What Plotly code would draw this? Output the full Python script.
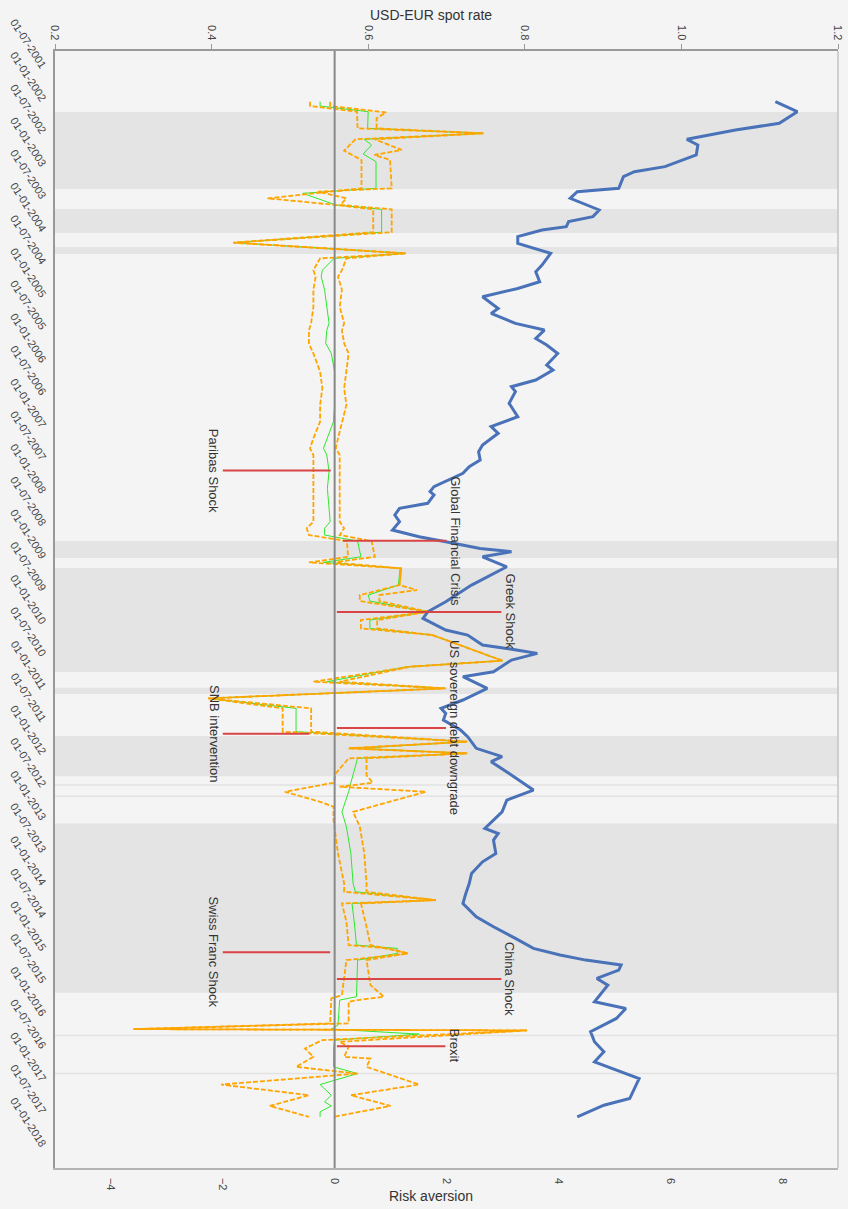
import plotly.graph_objects as go
import pandas as pd

# ---------------- data (time as decimal years) ----------------
usd_t = [2002.012, 2002.165, 2002.343, 2002.445, 2002.588, 2002.675, 2002.828, 2003.006, 2003.083, 2003.160,
         2003.338, 2003.389, 2003.491, 2003.670, 2003.772, 2003.848, 2003.925, 2003.976, 2004.078, 2004.180,
         2004.333, 2004.512, 2004.614, 2004.767, 2004.869, 2004.996, 2005.175, 2005.251, 2005.404, 2005.506,
         2005.634, 2005.736, 2005.864, 2006.041, 2006.118, 2006.271, 2006.373, 2006.449, 2006.628, 2006.832,
         2006.985, 2007.087, 2007.266, 2007.368, 2007.495, 2007.597, 2007.699, 2007.903, 2007.980, 2008.031,
         2008.158, 2008.235, 2008.337, 2008.439, 2008.567, 2008.669, 2008.745, 2008.847, 2008.898, 2008.975,
         2009.128, 2009.408, 2009.663, 2009.817, 2009.919, 2010.097, 2010.174, 2010.327, 2010.378, 2010.454,
         2010.556, 2010.735, 2010.811, 2010.990, 2011.168, 2011.296, 2011.373, 2011.475, 2011.628, 2011.730,
         2011.908, 2012.036, 2012.112, 2012.291, 2012.546, 2012.699, 2012.878, 2013.005, 2013.133, 2013.209,
         2013.311, 2013.515, 2013.643, 2013.822, 2013.975, 2014.153, 2014.281, 2014.485, 2014.638, 2014.816,
         2014.969, 2015.071, 2015.148, 2015.224, 2015.301, 2015.429, 2015.531, 2015.786, 2015.888, 2016.041,
         2016.245, 2016.398, 2016.551, 2016.704, 2016.959, 2017.265, 2017.367, 2017.546]
usd_v = [1.120, 1.148, 1.125, 1.069, 1.007, 1.021, 1.019, 0.979, 0.940, 0.926,
         0.920, 0.867, 0.858, 0.895, 0.887, 0.856, 0.853, 0.822, 0.791, 0.791,
         0.833, 0.822, 0.814, 0.819, 0.791, 0.746, 0.766, 0.757, 0.788, 0.825,
         0.814, 0.828, 0.842, 0.828, 0.836, 0.814, 0.783, 0.788, 0.780, 0.791,
         0.757, 0.766, 0.746, 0.741, 0.743, 0.729, 0.721, 0.684, 0.679, 0.684,
         0.676, 0.640, 0.634, 0.640, 0.631, 0.665, 0.699, 0.743, 0.783, 0.746,
         0.777, 0.732, 0.699, 0.676, 0.670, 0.699, 0.727, 0.746, 0.777, 0.816,
         0.783, 0.760, 0.721, 0.752, 0.721, 0.693, 0.699, 0.696, 0.718, 0.727,
         0.738, 0.771, 0.757, 0.780, 0.811, 0.777, 0.771, 0.760, 0.749, 0.766,
         0.760, 0.763, 0.746, 0.732, 0.729, 0.724, 0.721, 0.738, 0.760, 0.788,
         0.811, 0.845, 0.878, 0.923, 0.920, 0.892, 0.906, 0.889, 0.929, 0.917,
         0.884, 0.889, 0.901, 0.889, 0.946, 0.934, 0.901, 0.867]

low_t = [2002.012, 2002.078, 2002.165, 2002.420, 2002.496, 2002.588, 2002.762, 2002.904, 2003.338, 2003.491,
         2003.593, 2003.660, 2004.010, 2004.170, 2004.333, 2004.410, 2004.590, 2004.690, 2004.890, 2005.150,
         2005.400, 2005.510, 2005.710, 2005.864, 2006.143, 2006.398, 2006.653, 2006.908, 2007.164, 2007.317,
         2007.419, 2007.674, 2007.929, 2008.184, 2008.439, 2008.541, 2008.643, 2008.735, 2008.975, 2009.061,
         2009.153, 2009.408, 2009.561, 2009.653, 2009.817, 2009.944, 2010.072, 2010.174, 2010.566, 2010.658,
         2010.888, 2010.990, 2011.143, 2011.296, 2011.653, 2011.806, 2011.908, 2011.985, 2012.061, 2012.291,
         2012.434, 2012.572, 2012.725, 2012.800, 2013.005, 2013.515, 2013.975, 2014.102, 2014.230, 2014.281,
         2014.561, 2014.918, 2014.969, 2015.046, 2015.148, 2015.684, 2015.735, 2016.117, 2016.204, 2016.224,
         2016.372, 2016.500, 2016.628, 2016.781, 2016.883, 2017.051, 2017.214, 2017.378, 2017.546]
low_v = [-0.44, -0.44, 0.40, 0.41, 2.66, 0.37, 0.17, 0.48, 0.48, -1.20,
         0.02, 0.69, 0.69, -1.81, 1.27, -0.26, -0.38, -0.34, -0.38, -0.38,
         -0.42, -0.46, -0.46, -0.38, -0.26, -0.22, -0.26, -0.26, -0.38, -0.44,
         -0.38, -0.38, -0.38, -0.38, -0.38, -0.50, -0.46, 0.22, 0.24, -0.46,
         1.19, 1.16, 0.45, 0.45, 1.67, 0.47, 0.47, 1.75, 3.00, 1.35,
         -0.38, 1.98, -2.26, -0.93, -0.93, 2.37, 0.25, 2.37, 0.25, 0.02,
         -0.02, -0.89, -0.26, -0.02, -0.02, 0.06, 0.17, 0.17, 1.81, 0.13,
         0.21, 0.25, 0.96, 1.31, 0.21, 0.13, -0.06, -0.08, -3.60, 3.44,
         -0.22, -0.53, -0.38, -0.69, 0.41, -2.03, -0.46, -1.16, -0.46]

mid_t = [2002.012, 2002.078, 2002.165, 2002.420, 2002.496, 2002.588, 2002.675, 2002.813, 2002.930, 2003.338,
         2003.415, 2003.593, 2003.660, 2004.010, 2004.170, 2004.333, 2004.410, 2004.590, 2004.690, 2004.890,
         2005.150, 2005.400, 2005.510, 2005.710, 2005.864, 2006.143, 2006.398, 2006.653, 2006.908, 2007.164,
         2007.317, 2007.419, 2007.674, 2007.929, 2008.184, 2008.439, 2008.541, 2008.643, 2008.735, 2008.975,
         2009.061, 2009.153, 2009.408, 2009.561, 2009.653, 2009.817, 2009.944, 2010.072, 2010.174, 2010.566,
         2010.658, 2010.888, 2010.990, 2011.143, 2011.296, 2011.653, 2011.806, 2011.908, 2011.985, 2012.061,
         2012.434, 2012.572, 2012.725, 2012.878, 2013.107, 2013.515, 2013.975, 2014.102, 2014.230, 2014.281,
         2014.561, 2014.918, 2014.969, 2015.046, 2015.148, 2015.709, 2015.760, 2016.143, 2016.204, 2016.281,
         2016.372, 2016.500, 2016.781, 2016.883, 2017.051, 2017.214, 2017.316, 2017.378, 2017.469, 2017.546]
mid_v = [-0.26, -0.26, 0.60, 0.59, 2.66, 0.53, 0.66, 0.51, 0.74, 0.74,
         -0.57, 0.02, 0.84, 0.84, -1.81, 1.27, -0.01, -0.22, -0.24, -0.18,
         -0.14, -0.10, -0.14, -0.16, -0.06, 0.00, 0.00, 0.00, -0.02, -0.14,
         -0.20, -0.14, -0.10, -0.13, -0.10, -0.08, -0.18, -0.18, 0.41, 0.47,
         -0.20, 1.17, 1.14, 0.60, 0.63, 1.67, 0.63, 0.63, 1.75, 3.00,
         1.30, -0.14, 1.98, -2.26, -0.69, -0.69, 2.37, 0.41, 2.37, 0.41,
         0.29, 0.25, 0.19, 0.13, 0.21, 0.29, 0.33, 0.37, 1.81, 0.31,
         0.35, 0.39, 1.12, 1.12, 0.41, 0.39, 0.09, 0.06, -0.06, 1.51,
         0.00, -0.02, -0.02, 0.41, -0.26, -0.06, -0.18, -0.06, -0.26, -0.26]

up_t = [2002.012, 2002.078, 2002.175, 2002.267, 2002.420, 2002.496, 2002.588, 2002.751, 2002.828, 2002.904,
        2003.338, 2003.389, 2003.491, 2003.593, 2003.660, 2004.010, 2004.170, 2004.333, 2004.410, 2004.590,
        2004.690, 2004.890, 2005.150, 2005.400, 2005.510, 2005.710, 2005.864, 2006.143, 2006.398, 2006.653,
        2006.908, 2007.164, 2007.317, 2007.419, 2007.674, 2007.929, 2008.184, 2008.439, 2008.541, 2008.643,
        2008.735, 2008.975, 2009.061, 2009.153, 2009.408, 2009.485, 2009.561, 2009.653, 2009.817, 2009.944,
        2010.072, 2010.174, 2010.566, 2010.658, 2010.888, 2010.990, 2011.143, 2011.296, 2011.653, 2011.806,
        2011.908, 2011.985, 2012.061, 2012.320, 2012.434, 2012.495, 2012.572, 2012.878, 2013.107, 2013.515,
        2013.975, 2014.102, 2014.230, 2014.281, 2014.561, 2014.918, 2015.046, 2015.148, 2015.531, 2015.709,
        2015.760, 2015.786, 2016.117, 2016.204, 2016.224, 2016.306, 2016.398, 2016.474, 2016.628, 2016.653,
        2016.781, 2017.051, 2017.214, 2017.378, 2017.546]
up_v = [-0.08, -0.08, 0.92, 0.75, 0.75, 2.66, 0.72, 1.20, 0.71, 0.99,
        1.02, -0.30, 0.21, 0.10, 1.02, 1.02, -1.81, 1.27, 0.21, 0.13,
        0.06, 0.13, 0.09, 0.17, 0.13, 0.17, 0.25, 0.21, 0.17, 0.21,
        0.13, 0.06, 0.02, 0.09, 0.09, 0.09, 0.09, 0.09, 0.17, 0.09,
        0.66, 0.72, -0.03, 1.19, 1.16, 1.47, 0.80, 0.80, 1.67, 0.76,
        0.76, 1.75, 3.00, 1.35, 0.09, 1.98, -2.26, -0.42, -0.42, 2.37,
        0.25, 2.37, 0.57, 0.57, 0.68, 0.09, 1.63, 0.33, 0.45, 0.53,
        0.57, 0.57, 1.81, 0.47, 0.55, 0.64, 1.31, 0.57, 0.64, 0.88,
        0.41, 0.25, 0.25, -3.60, 3.44, 1.82, 0.09, 0.25, 0.17, 0.64,
        0.57, 1.51, 0.29, 1.00, -0.02]

band_start = ["2002-03-04", "2003-08-28", "2004-03-28", "2008-09-26", "2009-02-24",
              "2010-12-25", "2011-09-21", "2013-01-22"]
band_end = ["2003-05-08", "2004-01-09", "2004-05-06", "2008-12-30", "2010-09-28",
            "2011-01-29", "2012-05-02", "2015-08-25"]
thin_dates = ["2012-06-21", "2012-08-22", "2016-04-21", "2016-11-19"]

event_names = ["Paribas Shock", "Global Financial Crisis", "Greek Shock", "US sovereign debt downgrade",
               "SNB intervention", "Swiss Franc Shock", "China Shock", "Brexit"]
event_dates = ["2007-08-29", "2008-09-24", "2009-10-27", "2011-08-07",
               "2011-09-08", "2015-01-11", "2015-06-10", "2016-06-19"]
event_x0 = [-2.0, 0.15, 0.04, 0.04, -2.0, -2.0, 0.04, 0.04]
event_x1 = [-0.07, 2.0, 2.98, 1.99, -0.45, -0.08, 2.98, 1.98]
event_side = ["left", "right", "right", "right", "left", "left", "right", "right"]

usd_ticks = [0.2, 0.4, 0.6, 0.8, 1.0, 1.2]
usd_ticktext = ["0.2", "0.4", "0.6", "0.8", "1.0", "1.2"]
ra_ticks = [-4, -2, 0, 2, 4, 6, 8]


def to_date(t):
    y = int(t)
    a = pd.Timestamp(year=y, month=1, day=1)
    b = pd.Timestamp(year=y + 1, month=1, day=1)
    return a + (t - y) * (b - a)


def dates(ts):
    return [to_date(t) for t in ts]


FONT = "Liberation Sans, Arial, sans-serif"
ORANGE = "#FFA500"

fig = go.Figure()

fig.add_trace(go.Scatter(x=mid_v, y=dates(mid_t), mode="lines",
                         line=dict(color="#2ee82e", width=1), xaxis="x", yaxis="y"))
fig.add_trace(go.Scatter(x=low_v, y=dates(low_t), mode="lines",
                         line=dict(color=ORANGE, width=1.8, dash="5px,2px"), xaxis="x", yaxis="y"))
fig.add_trace(go.Scatter(x=up_v, y=dates(up_t), mode="lines",
                         line=dict(color=ORANGE, width=1.8, dash="5px,2px"), xaxis="x", yaxis="y"))
fig.add_trace(go.Scatter(x=usd_v, y=dates(usd_t), mode="lines",
                         line=dict(color="#4a72b8", width=3), xaxis="x2", yaxis="y"))

shapes = []
for s, e in zip(band_start, band_end):
    shapes.append(dict(type="rect", xref="paper", yref="y", x0=0, x1=1, y0=s, y1=e,
                       fillcolor="#e4e4e4", line=dict(width=0), layer="below"))
for d in thin_dates:
    shapes.append(dict(type="line", xref="paper", yref="y", x0=0, x1=1, y0=d, y1=d,
                       line=dict(color="#e2e2e2", width=1.5), layer="below"))
# zero line
shapes.append(dict(type="line", xref="x", yref="paper", x0=0, x1=0, y0=0, y1=1,
                   line=dict(color="#888888", width=2), layer="above"))
# right frame
shapes.append(dict(type="line", xref="paper", yref="paper", x0=1, x1=1, y0=0, y1=1,
                   line=dict(color="#c4c4c4", width=1.5), layer="above"))

annotations = []
for name, d, x0, x1, side in zip(event_names, event_dates, event_x0, event_x1, event_side):
    shapes.append(dict(type="line", xref="x", yref="y", x0=x0, x1=x1, y0=d, y1=d,
                       line=dict(color="#d94545", width=2), layer="above"))
    if side == "left":
        annotations.append(dict(x=x0, y=d, xref="x", yref="y", text=name, showarrow=False,
                                textangle=90, xanchor="center", yanchor="middle", xshift=-9,
                                font=dict(family=FONT, size=13, color="#333")))
    else:
        annotations.append(dict(x=x1, y=d, xref="x", yref="y", text=name, showarrow=False,
                                textangle=90, xanchor="center", yanchor="middle", xshift=9,
                                font=dict(family=FONT, size=13, color="#333")))

annotations.append(dict(x=0.48, y=1 + 36 / 1117, xref="paper", yref="paper", text="USD-EUR spot rate",
                        showarrow=False, xanchor="center", yanchor="middle",
                        font=dict(family=FONT, size=14, color="#333")))
annotations.append(dict(x=0.48, y=-28 / 1117, xref="paper", yref="paper", text="Risk aversion",
                        showarrow=False, xanchor="center", yanchor="middle",
                        font=dict(family=FONT, size=14, color="#333")))

fig.update_layout(
    width=848, height=1209,
    margin=dict(l=55, r=10, t=51, b=41, autoexpand=False),
    paper_bgcolor="#f4f4f4", plot_bgcolor="#f4f4f4",
    showlegend=False,
    font=dict(family=FONT, size=11, color="#444"),
    shapes=shapes, annotations=annotations,
    xaxis=dict(range=[-5, 9], tickvals=ra_ticks, tickangle=90, showgrid=False, zeroline=False,
               showline=True, linecolor="#b4b4b4", linewidth=1.5, ticks="",
               ticklabelstandoff=6, tickfont=dict(size=11, color="#444")),
    xaxis2=dict(range=[0.2, 1.2], tickvals=usd_ticks, ticktext=usd_ticktext, overlaying="x",
                side="top", anchor="y", tickangle=90, showgrid=False, zeroline=False,
                showline=True, linecolor="#999", linewidth=1.5, ticks="outside", ticklen=5,
                tickcolor="#999", tickfont=dict(size=11, color="#444")),
    yaxis=dict(type="date", range=["2018-05-01", "2001-03-28"], tickformat="%d-%m-%Y",
               dtick="M6", tick0="2001-07-01", tickangle=57, showgrid=False, zeroline=False,
               showline=True, linecolor="#999", linewidth=1.5, ticks="",
               ticklabelstandoff=6, tickfont=dict(size=11, color="#444")),
)

fig.write_html("out.html", config={"displayModeBar": False},
               post_script="document.body.style.margin='0px';document.body.style.background='#f4f4f4';")
